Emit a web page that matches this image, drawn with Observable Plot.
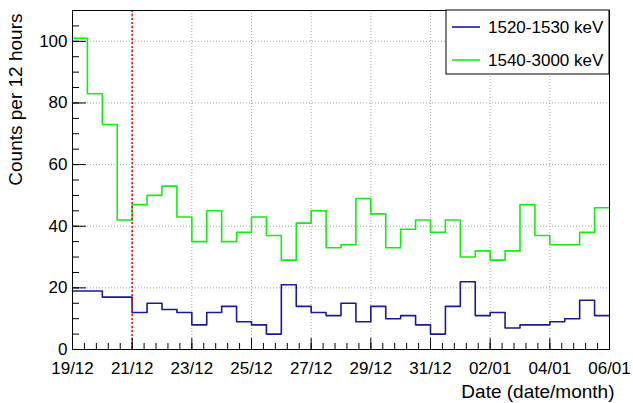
<!DOCTYPE html>
<html>
<head>
<meta charset="utf-8">
<script src="https://cdn.jsdelivr.net/npm/d3@7"></script>
<script src="https://cdn.jsdelivr.net/npm/@observablehq/plot@0.6"></script>
<style>
  html, body { margin: 0; padding: 0; background: #fff; }
  #chart { width: 633px; height: 403px; }
</style>
</head>
<body>
<div id="chart"></div>
<script>
// Counts per 12-hour bin, starting 19/12 00:00
const binStart = "2021-12-19T00:00:00Z";
const binHours = 12;
const lowBand = [19,19,17,17,12,15,13,12,8,12,14,9,8,5,21,14,12,11,15,9,14,10,11,8,5,14,22,11,12,7,8,8,9,10,16,11];
const highBand = [101,83,73,42,47,50,53,43,35,45,35,38,43,37,29,41,45,33,34,49,44,33,39,42,38,42,30,32,29,32,47,37,34,34,38,46];
const seriesNames = ["1520-1530 keV", "1540-3000 keV"];
const seriesColors = ["#1a1a99", "#11ee11"];
const xTickLabels = ["19/12","21/12","23/12","25/12","27/12","29/12","31/12","02/01","04/01","06/01"];
const yTicks = [0, 20, 40, 60, 80, 100];
const markerDate = "2021-12-21T00:00:00Z";
const xTitle = "Date (date/month)";
const yTitle = "Counts per 12 hours";

const t0 = new Date(binStart);
const H = 3600 * 1000;
function steps(values) {
  const pts = values.map((v, i) => ({t: new Date(+t0 + i * binHours * H), v}));
  pts.push({t: new Date(+t0 + values.length * binHours * H), v: values[values.length - 1]});
  return pts;
}
const lowData = steps(lowBand);
const highData = steps(highBand);
const xEnd = new Date(+t0 + lowBand.length * binHours * H);

const majorDates = xTickLabels.map((_, i) => new Date(+t0 + i * 48 * H));
const minorDates = d3.range(0, 46).map(i => new Date(+t0 + i * 9.6 * H)).filter(d => d <= xEnd);
const yMinor = d3.range(0, 111, 5);
const gridX = majorDates.slice(1, -1);
const gridY = yTicks.slice(1);

const W = 633, Hh = 403, mL = 72, mR = 24, mT = 10, mB = 54;
const plotW = W - mL - mR, plotH = Hh - mT - mB;

const chart = Plot.plot({
  width: W, height: Hh,
  marginLeft: mL, marginRight: mR, marginTop: mT, marginBottom: mB,
  style: {fontFamily: "'Liberation Sans', Arial, Helvetica, sans-serif", fontSize: "17px", background: "#fff", color: "#000"},
  x: {type: "utc", domain: [t0, xEnd]},
  y: {domain: [0, 110]},
  marks: [
    Plot.ruleY(gridY, {stroke: "#9a9a9a", strokeDasharray: "1,2", strokeWidth: 0.9}),
    Plot.ruleX(gridX, {stroke: "#9a9a9a", strokeDasharray: "1,2", strokeWidth: 0.9}),
    Plot.line(lowData, {x: "t", y: "v", curve: "step-after", stroke: seriesColors[0], strokeWidth: 1.6}),
    Plot.line(highData, {x: "t", y: "v", curve: "step-after", stroke: seriesColors[1], strokeWidth: 1.6}),
    Plot.ruleX([new Date(markerDate)], {stroke: "red", strokeDasharray: "2,2", strokeWidth: 1.5}),
    Plot.tickX(majorDates, {x: d => d, insetTop: plotH - 11, stroke: "#000", strokeWidth: 1}),
    Plot.tickX(minorDates, {x: d => d, insetTop: plotH - 6, stroke: "#000", strokeWidth: 1}),
    Plot.tickY(yTicks, {y: d => d, insetRight: plotW - 14, stroke: "#000", strokeWidth: 1}),
    Plot.tickY(yMinor, {y: d => d, insetRight: plotW - 7, stroke: "#000", strokeWidth: 1}),
    Plot.frame({stroke: "#000", strokeWidth: 1}),
    Plot.axisX({ticks: majorDates, tickFormat: (d, i) => xTickLabels[i], tickSize: 0, tickPadding: 12, label: null, fontSize: 17}),
    Plot.axisY({ticks: yTicks, tickSize: 0, tickPadding: 5, label: null, fontSize: 17}),
    Plot.text([xTitle], {frameAnchor: "bottom-right", text: d => d, textAnchor: "end", lineAnchor: "middle", dx: 5, dy: 42, fontSize: 19}),
    Plot.text([yTitle], {frameAnchor: "top-left", text: d => d, textAnchor: "end", lineAnchor: "middle", rotate: -90, dx: -57, dy: 3, fontSize: 19})
  ]
});

// Legend box (top-right corner inside the frame)
const svg = d3.select(chart);
const lg = svg.append("g")
  .attr("font-family", "'Liberation Sans', Arial, Helvetica, sans-serif")
  .attr("font-size", 17)
  .attr("text-anchor", "start");
const lx = mL + plotW - 163, ly = mT;
lg.append("rect").attr("x", lx).attr("y", ly).attr("width", 163).attr("height", 64)
  .attr("fill", "#fff").attr("stroke", "#000").attr("stroke-width", 1);
seriesNames.forEach((name, i) => {
  const cy = ly + 17 + i * 33;
  lg.append("line").attr("x1", lx + 6).attr("x2", lx + 34).attr("y1", cy).attr("y2", cy)
    .attr("stroke", seriesColors[i]).attr("stroke-width", 1.6);
  lg.append("text").attr("x", lx + 42).attr("y", cy).attr("dy", "0.35em")
    .attr("text-anchor", "start").attr("fill", "#000").text(name);
});

document.getElementById("chart").appendChild(chart);
</script>
</body>
</html>
